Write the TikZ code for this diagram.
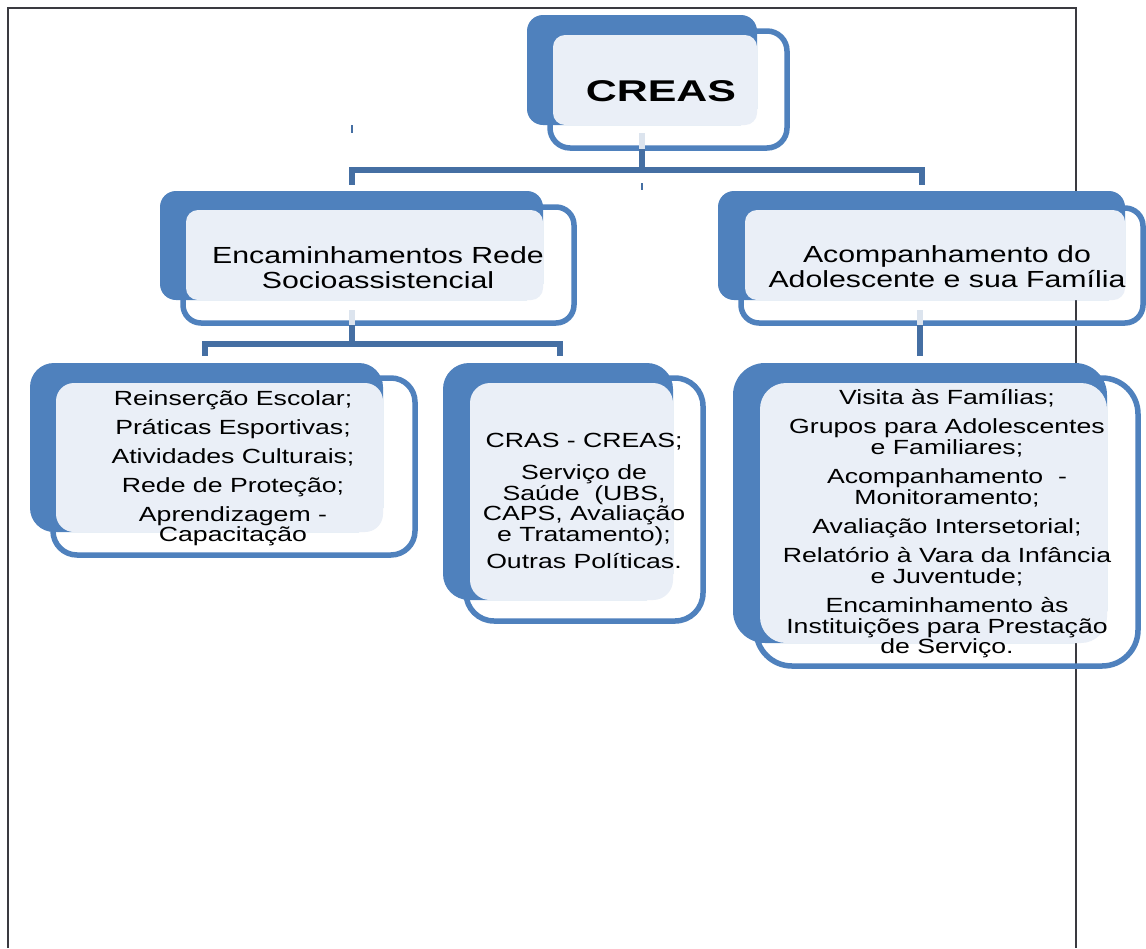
\documentclass[tikz,border=0pt]{standalone}
\usepackage{fontspec}
\setmainfont{Liberation Sans}[FakeStretch=1.3]
\newfontfamily\creasfont{Liberation Sans}[FakeStretch=1.43]
\definecolor{bluefill}{HTML}{4F81BD}
\definecolor{lightfill}{HTML}{EAEFF7}
\definecolor{connc}{HTML}{456FA3}
\definecolor{palec}{HTML}{DCE4EE}
\definecolor{framec}{HTML}{3A3A40}
\begin{document}
\begin{tikzpicture}[x=1pt,y=-1pt,
  outl/.style={draw=bluefill,line width=5.5pt},
  back/.style={fill=bluefill},
  front/.style={fill=lightfill},
  connline/.style={draw=connc,line width=6pt},
  paleline/.style={draw=palec,line width=6pt},
  tick/.style={draw=connc,line width=1.2pt},
  lvtwo/.style={font=\fontsize{23.3}{25}\selectfont,align=center,text=black,inner sep=0pt},
  lvthree/.style={font=\fontsize{20.5}{20.5}\selectfont,align=center,text=black,inner sep=0pt}]
\useasboundingbox (0,0) rectangle (1146,948);
\fill[white] (0,0) rectangle (1146,948);
% frame
\draw[framec,line width=1.8pt] (8,948) -- (8,8) -- (1076,8) -- (1076,948);

% CREAS box
\draw[outl,rounded corners=20pt] (550,31) rectangle (787,148);
\fill[back,rounded corners=16pt] (527,15) rectangle (757,125);
\fill[front,rounded corners=12pt] (553,35) rectangle (757,125);

% level 2 left
\draw[outl,rounded corners=18pt] (183,207) rectangle (574,323);
\fill[back,rounded corners=16pt] (160,191) rectangle (543,300);
\fill[front,rounded corners=12pt] (186,210) rectangle (543,300);

% level 2 right
\draw[outl,rounded corners=18pt] (741,208) rectangle (1143,323);
\fill[back,rounded corners=16pt] (718,191) rectangle (1125,300);
\fill[front,rounded corners=12pt] (745,210) rectangle (1125,300);

% level 3 A
\draw[outl,rounded corners=24pt] (53,378) rectangle (415,555);
\fill[back,rounded corners=24pt] (30,363) rectangle (383,532);
\fill[front,rounded corners=18pt] (56,383) rectangle (383,532);

% level 3 B
\draw[outl,rounded corners=28pt] (466,378) rectangle (703,621);
\fill[back,rounded corners=26pt] (443,363) rectangle (673,600);
\fill[front,rounded corners=20pt] (470,383) rectangle (673,600);

% level 3 C
\draw[outl,rounded corners=36pt] (756,378) rectangle (1138,666);
\fill[back,rounded corners=32pt] (733,363) rectangle (1107,643);
\fill[front,rounded corners=26pt] (760,383) rectangle (1107,643);

% text nodes
\node[inner sep=0pt] (creas) at (661,91) {\creasfont\bfseries\fontsize{30}{30}\selectfont CREAS};
\node[lvtwo] (enc) at (378,268) {Encaminhamentos Rede\\Socioassistencial};
\node[lvtwo] (acomp) at (947,267) {Acompanhamento do\\Adolescente e sua Família};
\node[lvthree] (itemsA) at (233,468) {Reinserção Escolar;\\[8.5pt]Práticas Esportivas;\\[8.5pt]Atividades Culturais;\\[8.5pt]Rede de Proteção;\\[9pt]Aprendizagem -\\[-1pt]Capacitação};
\node[lvthree] (itemsB) at (584,501) {CRAS - CREAS;\\[12pt]Serviço de\\Saúde\ \ (UBS,\\CAPS, Avaliação\\e Tratamento);\\[7pt]Outras Políticas.};
\node[lvthree] (itemsC) at (947,524) {Visita às Famílias;\\[8.5pt]Grupos para Adolescentes\\e Familiares;\\[9pt]Acompanhamento\ \ -\\Monitoramento;\\[9pt]Avaliação Intersetorial;\\[8.5pt]Relatório à Vara da Infância\\e Juventude;\\[9pt]Encaminhamento às\\Instituições para Prestação\\de Serviço.};

% connector coordinates
\coordinate (creasS) at (642,133);
\coordinate (creasO) at (642,149);
\coordinate (encN) at (352,185);
\coordinate (acompN) at (922,185);
\coordinate (encS) at (352,310);
\coordinate (encO) at (352,325);
\coordinate (acompS) at (920,310);
\coordinate (acompO) at (920,325);
\coordinate (itemsAN) at (205,356);
\coordinate (itemsBN) at (560,356);
\coordinate (itemsCN) at (920,356);

% connectors
\draw[paleline] (creasS) -- (creasO);
\draw[connline] (creasO) -- (642,170) -| (encN);
\draw[connline] (creasO) -- (642,170) -| (acompN);
\draw[paleline] (encS) -- (encO);
\draw[connline] (encO) -- (352,343.5) -| (itemsAN);
\draw[connline] (encO) -- (352,343.5) -| (itemsBN);
\draw[paleline] (acompS) -- (acompO);
\draw[connline] (acompO) -- (itemsCN);

% small ticks
\coordinate (tickA1) at (352,125);
\coordinate (tickA2) at (352,133);
\coordinate (tickB1) at (642,183);
\coordinate (tickB2) at (642,190);
\draw[tick] (tickA1) -- (tickA2);
\draw[tick] (tickB1) -- (tickB2);
\end{tikzpicture}
\end{document}
